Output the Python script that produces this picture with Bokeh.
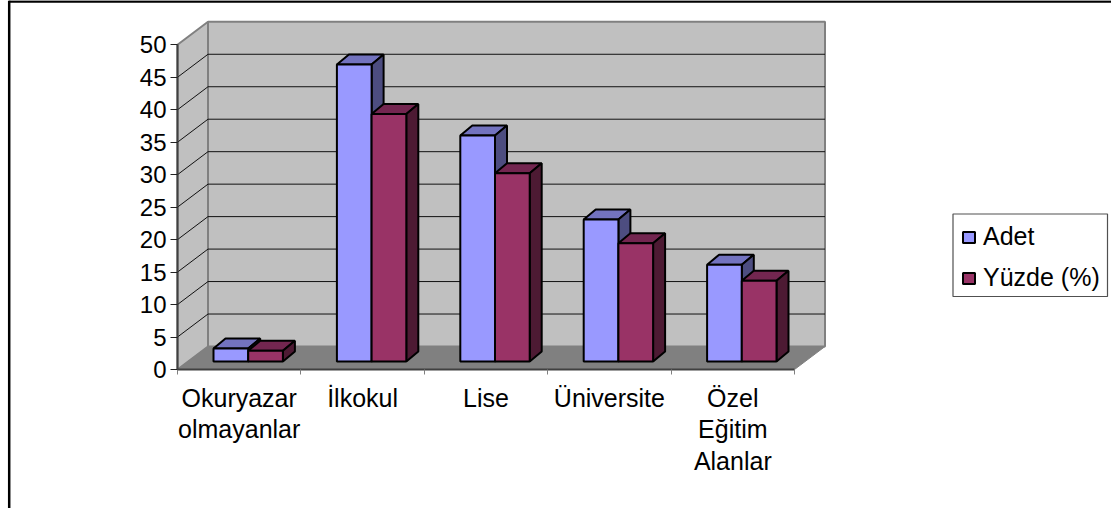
from bokeh.plotting import figure
from bokeh.models import LinearAxis, FixedTicker, Legend, LegendItem, Range1d
from bokeh.core.properties import value
from bokeh.embed import file_html
from bokeh.resources import INLINE

categories = ["Okuryazar\nolmayanlar", "İlkokul", "Lise", "Üniversite", "Özel\nEğitim\nAlanlar"]
adet = [2, 46, 35, 22, 15]
yuzde = [1.67, 38.33, 29.17, 18.33, 12.5]
y_ticks = [0, 5, 10, 15, 20, 25, 30, 35, 40, 45, 50]
FONT = "Liberation Sans"
TXT = "25px"

PX_X, PX_Y = 123.4, 6.494        # pixels per category / per value unit
X0, Y0 = 177, 369                # screen position of the axes' origin
W, H = 1111, 508
BAR_SCALE = 0.994                # the 3D bars are set slightly further back than the axis
def sx(dpx): return dpx / PX_X
def sy(dpy): return dpy / PX_Y
def ax(px): return (px - X0) / PX_X
def ay(py): return (Y0 - py) / PX_Y

p = figure(width=W, height=H, output_backend="svg", toolbar_location=None,
           x_range=Range1d(ax(0), ax(W)), y_range=Range1d(ay(H), ay(0)),
           min_border=0, x_axis_type=None, y_axis_type=None)
p.grid.visible = False
p.outline_line_color = None

n = len(categories)
ymax = y_ticks[-1]
wx, wy = sx(30.5), sy(23)
GREY = "#808080"
DARK = "#404040"

# walls and floor
p.patch([0, wx, wx, 0], [0, wy, ymax + wy, ymax], fill_color="#C0C0C0", line_color=GREY, line_width=2)
p.patch([wx, n + wx, n + wx, wx], [wy, wy, ymax + wy, ymax + wy], fill_color="#C0C0C0", line_color=GREY, line_width=2)
p.patch([0, n, n + wx, wx], [0, 0, wy, wy], fill_color=GREY, line_color=GREY, line_width=1)
for t in y_ticks[1:-1]:
    p.line([0, wx, n + wx], [t, t + wy, t + wy], line_color="#111111", line_width=1)

# bars
bar_w, start, lift = sx(34.7), sx(36), sy(8)
dx, dy = sx(12), sy(10)
shades = [("#9999FF", "#7373BF", "#4D4D80"), ("#993366", "#732650", "#4D1A33")]
front = [None, None]
for i in range(n):
    for s, vals in enumerate([adet, yuzde]):
        l = i + start + s * bar_w
        r = l + bar_w
        b = lift
        t = lift + vals[i] * BAR_SCALE
        fc, tc, sc = shades[s]
        p.patch([l, r, r + dx, l + dx], [t, t, t + dy, t + dy], fill_color=tc, line_color="black", line_width=2)
        p.patch([r, r + dx, r + dx, r], [b, b + dy, t + dy, t], fill_color=sc, line_color="black", line_width=2)
        q = p.quad(left=[l], right=[r], bottom=[b], top=[t], fill_color=fc, line_color="black", line_width=2)
        if i == 0:
            front[s] = q

# axes
yax = LinearAxis(fixed_location=0, ticker=FixedTicker(ticks=y_ticks), bounds=(0, ymax))
yax.axis_line_color = DARK
yax.axis_line_width = 2
yax.major_tick_line_color = "#222222"
yax.major_tick_out = 7
yax.major_tick_in = 0
yax.minor_tick_line_color = None
yax.major_label_text_font = FONT
yax.major_label_text_font_size = "24px"
yax.major_label_text_color = "black"
yax.major_label_standoff = 4
p.add_layout(yax, "left")

xax = LinearAxis(fixed_location=0, ticker=FixedTicker(ticks=list(range(n + 1))), bounds=(0, n))
xax.axis_line_color = DARK
xax.axis_line_width = 2
xax.major_tick_line_color = GREY
xax.major_tick_out = 5
xax.major_tick_in = 0
xax.minor_tick_line_color = None
xax.major_label_text_font_size = "0px"
xax.major_label_text_color = None
p.add_layout(xax, "below")

p.text(x=[i + 0.5 for i in range(n)], y=[-sy(14)] * n, text=categories,
       text_font=value(FONT), text_font_size=TXT, text_color="black",
       text_align="center", text_baseline="top", text_line_height=1.14)

# frame lines of the chart area
p.line([ax(8.7)] * 2, [ay(H), ay(0)], line_color="black", line_width=2.5)
p.line([ax(8.7), ax(W)], [ay(1)] * 2, line_color="black", line_width=2.5)

# legend box and legend
p.quad(left=[ax(952.5)], right=[ax(1107)], bottom=[ay(296)], top=[ay(213.5)],
       fill_color="white", line_color="#505050", line_width=1.2)
legend = Legend(items=[LegendItem(label="Adet", renderers=[front[0]]),
                       LegendItem(label="Yüzde (%)", renderers=[front[1]])],
                location=(961, H - 292), orientation="vertical",
                glyph_width=15, glyph_height=14, label_standoff=7, padding=0, spacing=12, margin=0,
                label_text_font=FONT, label_text_font_size=TXT, label_text_color="black",
                border_line_color=None, background_fill_alpha=0)
p.add_layout(legend)

open("out.html", "w").write(file_html(p, INLINE))
